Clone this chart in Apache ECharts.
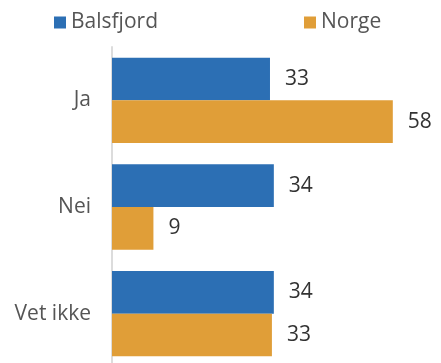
<!DOCTYPE html>
<html><head><meta charset="utf-8">
<script src="https://cdn.jsdelivr.net/npm/echarts@6/dist/echarts.min.js"></script>
<style>html,body{margin:0;padding:0;background:#fff}#c{width:441px;height:363px}</style>
</head><body><div id="c"></div>
<script>
const categories = ['Ja', 'Nei', 'Vet ikke'];
const seriesNames = ['Balsfjord', 'Norge'];
const balsfjord = [32.8, 33.6, 33.6];
const norge = [58.3, 8.6, 33.2];
const colors = ['#2c6fb4', '#e09e38'];
const FONT = 'Open Sans';

const chart = echarts.init(document.getElementById('c'), null, {renderer: 'canvas'});
const lbl = {
  show: true, position: 'right', distance: 15,
  color: '#333', fontSize: 21, fontFamily: FONT,
  formatter: p => Math.round(p.value)
};
chart.setOption({
  animation: false,
  color: colors,
  legend: {
    left: 49, top: 7, itemWidth: 12, itemHeight: 12, itemGap: 146,
    icon: 'rect',
    textStyle: {color: '#555', fontSize: 21, fontFamily: FONT},
    data: seriesNames
  },
  grid: {left: 112, top: 47, width: 289, height: 320, containLabel: false, outerBoundsMode: 'none'},
  xAxis: {type: 'value', min: 0, max: 60, show: false},
  yAxis: {
    type: 'category', data: categories, inverse: true,
    axisLine: {show: true, lineStyle: {color: '#dcdcdc', width: 2}},
    axisTick: {show: false},
    axisLabel: {color: '#555', fontSize: 21, fontFamily: FONT, margin: 21}
  },
  series: [
    {name: seriesNames[0], type: 'bar', data: balsfjord, barGap: '0%', barCategoryGap: '20%', label: lbl},
    {name: seriesNames[1], type: 'bar', data: norge, barGap: '0%', barCategoryGap: '20%', label: lbl}
  ]
});
</script></body></html>
